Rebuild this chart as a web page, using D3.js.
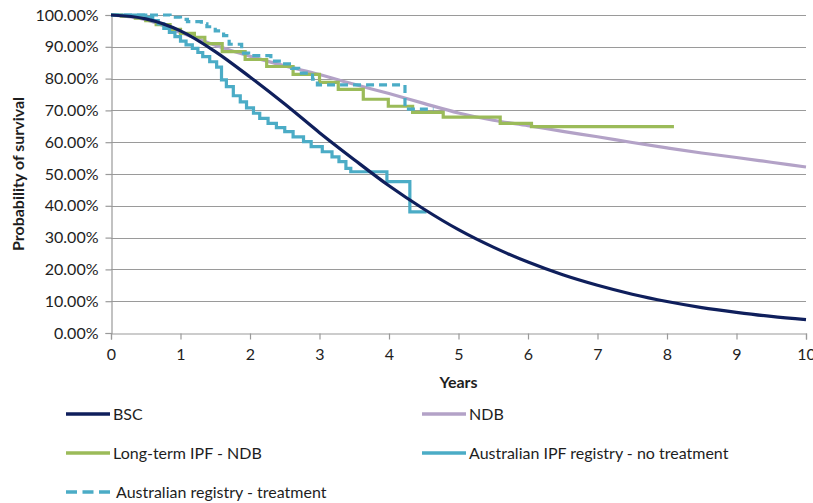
<!DOCTYPE html>
<html>
<head>
<meta charset="utf-8">
<script src="https://cdn.jsdelivr.net/npm/d3@7"></script>
<style>
  body { margin: 0; background: #fff; }
  svg { display: block; font-family: Lato, "Open Sans", sans-serif; }
</style>
</head>
<body>
<svg id="chart" width="813" height="503"></svg>
<script>
// Modelled curves, sampled every half year (percent surviving)
const modelYears = [0,0.5,1,1.5,2,2.5,3,3.5,4,4.5,5,5.5,6,6.5,7,7.5,8,8.5,9,9.5,10];
const bscSurvival = [100,98.8,95,88.5,80.5,72,63,54.5,46.3,39,32.5,27,22.3,18.3,15,12.2,9.9,8,6.5,5.2,4.2];
const ndbSurvival = [100,98.5,94.5,90.5,87,84,81.3,78.2,75.3,72.2,69.2,66.9,65.2,63.4,61.7,59.9,58.2,56.6,55.2,53.7,52.2];

// Kaplan-Meier style step data: time of each step and survival after it
const longTermTimes  = [0,0.15,0.35,0.5,0.65,0.85,1.0,1.2,1.35,1.6,1.93,2.24,2.62,3.0,3.27,3.63,3.99,4.34,4.78,5.6,6.05,8.1];
const longTermValues = [100,99.6,99,98.2,97,95.5,94.2,93,91,88.5,86,83.8,81.3,78.8,76.6,73.5,71.3,69.4,67.9,65.9,64.9,64.9];

const noTreatTimes  = [0,0.5,0.6,0.68,0.76,0.84,0.92,1.0,1.08,1.17,1.25,1.32,1.42,1.52,1.59,1.66,1.76,1.86,1.95,2.05,2.14,2.26,2.38,2.5,2.62,2.77,2.88,3.04,3.18,3.28,3.38,3.45,3.97,4.3,4.54];
const noTreatValues = [100,99.3,98.2,97.2,95.8,94.5,93.2,91.8,90.6,89.5,88.2,86.9,85.3,83.6,79.6,77.5,74.6,72.7,70.8,69.1,67.5,65.9,64.6,63.3,61.7,60.2,58.6,57.0,55.4,53.9,51.8,50.7,47.6,38.1,38.1];

const treatTimes  = [0,0.85,1.0,1.1,1.3,1.38,1.5,1.62,1.7,1.88,1.98,2.3,2.45,2.6,2.7,2.9,2.97,4.23,4.64];
const treatValues = [100,99.3,98.6,97.9,97.2,96.3,95.0,93.5,90.8,88.0,87.2,85.5,84.6,83.2,81.7,79.8,78.0,70.4,70.4];

const yTicks = d3.range(0, 101, 10);
const xTicks = d3.range(0, 11, 1);

const seriesNames = ["BSC", "NDB", "Long-term IPF - NDB", "Australian IPF registry - no treatment", "Australian registry - treatment"];
const seriesColors = ["#0f1f5c", "#b3a2c7", "#9bbb59", "#4bacc6", "#4bacc6"];

const svg = d3.select("#chart");
const margin = { left: 111, right: 7, top: 15, bottom: 170 };
const W = 813, H = 503;

const x = d3.scaleLinear().domain([0, 10]).range([margin.left, W - margin.right]);
const y = d3.scaleLinear().domain([0, 100]).range([H - margin.bottom, margin.top]);

const gridColor = "#9a9a9a";
const textColor = "#1e1e1e";
const fontSize = 16;

// Horizontal gridlines
svg.append("g")
  .selectAll("line")
  .data(yTicks.filter(d => d > 0))
  .join("line")
  .attr("x1", x(0)).attr("x2", x(10))
  .attr("y1", d => Math.round(y(d)) + 0.5).attr("y2", d => Math.round(y(d)) + 0.5)
  .attr("stroke", gridColor).attr("stroke-width", 1.2);

// Axes
const yAxis = svg.append("g")
  .attr("transform", `translate(${Math.round(x(0)) + 0.5},0)`)
  .call(d3.axisLeft(y).tickValues(yTicks).tickSize(6).tickPadding(7)
        .tickFormat(d => d.toFixed(2) + "%"));
const xAxis = svg.append("g")
  .attr("transform", `translate(0,${Math.round(y(0)) + 0.5})`)
  .call(d3.axisBottom(x).tickValues(xTicks).tickSize(6).tickPadding(9));

[yAxis, xAxis].forEach(g => {
  g.select(".domain").attr("stroke", gridColor).attr("stroke-width", 1.2);
  g.selectAll(".tick line").attr("stroke", gridColor).attr("stroke-width", 1.2);
  g.selectAll(".tick text").attr("fill", textColor).style("font-size", fontSize + "px")
    .style("font-family", "Lato, 'Open Sans', sans-serif");
});

// Axis titles
svg.append("text")
  .attr("transform", `translate(24,${(y(0) + y(100)) / 2}) rotate(-90)`)
  .attr("text-anchor", "middle")
  .attr("font-weight", "bold").attr("font-size", fontSize).attr("fill", textColor)
  .text("Probability of survival");
svg.append("text")
  .attr("x", (x(0) + x(10)) / 2).attr("y", 388)
  .attr("text-anchor", "middle")
  .attr("font-weight", "bold").attr("font-size", fontSize).attr("fill", textColor)
  .text("Years");

// Line generators
const smooth = d3.line().x(d => x(d[0])).y(d => y(d[1])).curve(d3.curveMonotoneX);
const step = d3.line().x(d => x(d[0])).y(d => y(d[1])).curve(d3.curveStepAfter);
const zip = (a, b) => a.map((v, i) => [v, b[i]]);

const plot = svg.append("g").attr("fill", "none").attr("stroke-width", 3.2);

plot.append("path").attr("d", smooth(zip(modelYears, ndbSurvival)))
  .attr("stroke", seriesColors[1]);
plot.append("path").attr("d", step(zip(longTermTimes, longTermValues)))
  .attr("stroke", seriesColors[2]);
plot.append("path").attr("d", step(zip(noTreatTimes, noTreatValues)))
  .attr("stroke", seriesColors[3]);
plot.append("path").attr("d", step(zip(treatTimes, treatValues)))
  .attr("stroke", seriesColors[4]).attr("stroke-dasharray", "8,5");
plot.append("path").attr("d", smooth(zip(modelYears, bscSurvival)))
  .attr("stroke", seriesColors[0]);

// Legend
const legendItems = [
  { i: 0, lx: 66, ly: 414 },
  { i: 1, lx: 422, ly: 414 },
  { i: 2, lx: 66, ly: 453 },
  { i: 3, lx: 422, ly: 453 },
  { i: 4, lx: 66, ly: 492 }
];
const legend = svg.append("g");
legendItems.forEach(item => {
  const g = legend.append("g");
  const dashed = item.i === 4;
  g.append("line")
    .attr("x1", item.lx).attr("x2", item.lx + 44)
    .attr("y1", item.ly).attr("y2", item.ly)
    .attr("stroke", seriesColors[item.i]).attr("stroke-width", 3.5)
    .attr("stroke-dasharray", dashed ? "11,5.5" : null);
  g.append("text")
    .attr("x", item.lx + (dashed ? 50 : 47)).attr("y", item.ly + 5.5)
    .attr("font-size", fontSize).attr("fill", textColor)
    .text(seriesNames[item.i]);
});
</script>
</body>
</html>
